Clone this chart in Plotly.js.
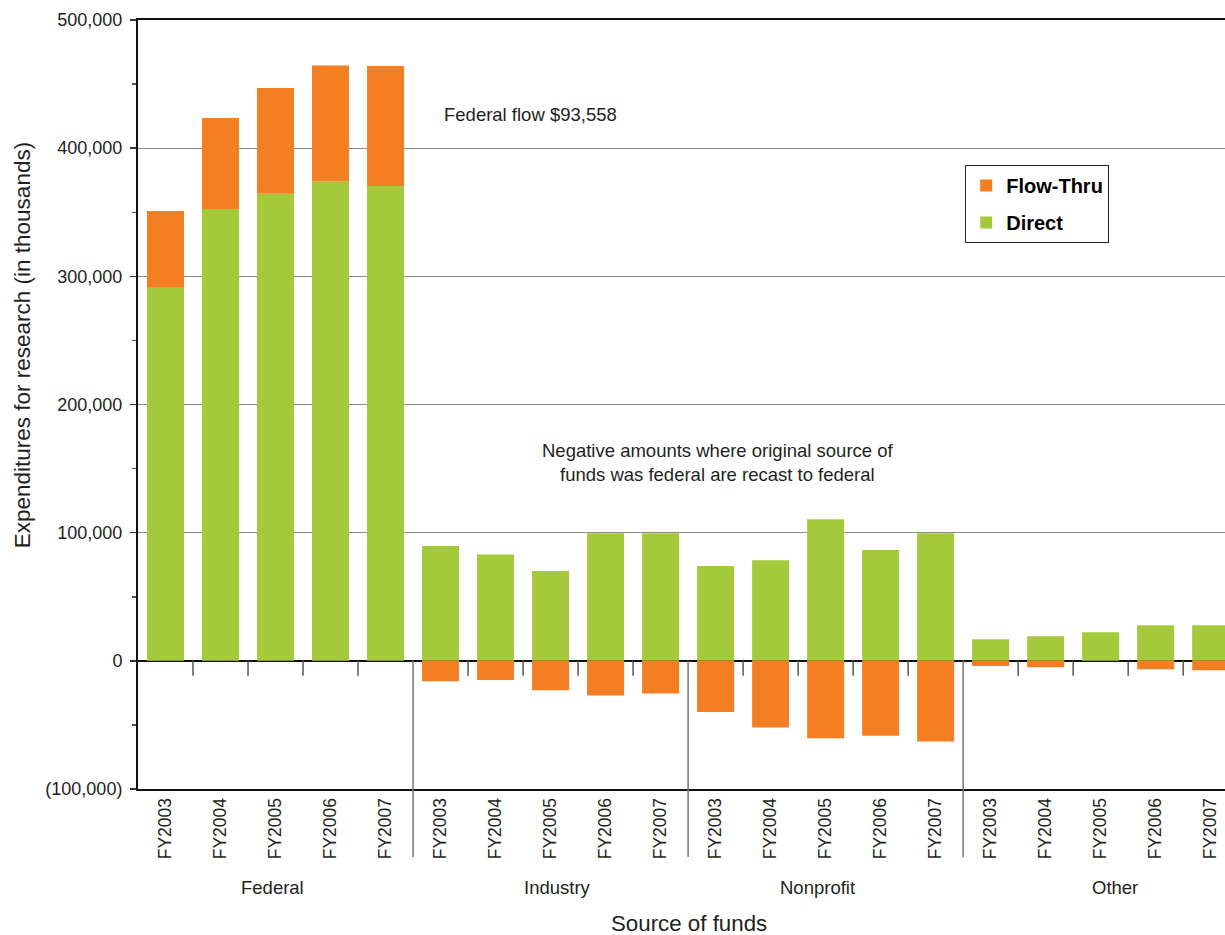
<!DOCTYPE html>
<html>
<head>
<meta charset="utf-8">
<script src="https://cdn.plot.ly/plotly-3.0.1.min.js"></script>
<style>html,body{margin:0;padding:0;background:#fff;}#chart{width:1225px;height:935px;}</style>
</head>
<body>
<div id="chart"></div>
<script>
// ---- data ----
const groups = ['Federal', 'Industry', 'Nonprofit', 'Other'];
const years = ['FY2003', 'FY2004', 'FY2005', 'FY2006', 'FY2007'];

const directFederal   = [291000, 352500, 364500, 374000, 370500];
const flowFederal     = [60000, 71000, 82500, 90500, 93558];
const directIndustry  = [89500, 83000, 70000, 99500, 99500];
const flowIndustry    = [-16000, -15000, -23000, -27000, -25500];
const directNonprofit = [74000, 78500, 110500, 86500, 99500];
const flowNonprofit   = [-40000, -52000, -60500, -58500, -63000];
const directOther     = [16800, 19200, 22300, 27700, 27700];
const flowOther       = [-4000, -5000, 0, -6500, -7300];

const yTickVals = [-100000, 0, 100000, 200000, 300000, 400000, 500000];
const yTickText = ['(100,000)', '0', '100,000', '200,000', '300,000', '400,000', '500,000'];

// ---- build ----
const direct = [].concat(directFederal, directIndustry, directNonprofit, directOther);
const flow = [].concat(flowFederal, flowIndustry, flowNonprofit, flowOther);
const xIdx = direct.map((_, i) => i);
const xText = [];
groups.forEach(() => years.forEach(y => xText.push(y)));

const GREEN = '#a4c93b';
const ORANGE = '#f47e22';
const FONT = 'Liberation Sans, Arial, Helvetica, sans-serif';
const TXT = '#231f20';

const traces = [
  {type: 'bar', name: 'Direct', x: xIdx, y: direct, marker: {color: GREEN, line: {width: 0}},
   legendgroup: 'd', legendrank: 2, hoverinfo: 'y'},
  {type: 'bar', name: 'Flow-Thru', x: xIdx, y: flow, marker: {color: ORANGE, line: {width: 0}},
   legendgroup: 'f', legendrank: 1, hoverinfo: 'y'}
];

const n = years.length;
const shapes = [];
for (let i = 0; i < xIdx.length - 1; i++) {
  const b = i + 0.5;
  if ((i + 1) % n === 0) {
    shapes.push({type: 'line', xref: 'x', yref: 'paper', x0: b, x1: b, y0: 1/6, y1: -0.0884,
      line: {color: '#777', width: 1.5}});
  } else {
    shapes.push({type: 'line', xref: 'x', yref: 'y', ysizemode: 'pixel', yanchor: 0,
      x0: b, x1: b, y0: 0, y1: -15, line: {color: '#555', width: 1.5}});
  }
}

const groupLabelX = [1.94, 7.12, 11.85, 17.26];
const annotations = groups.map((g, k) => ({
  text: g, xref: 'x', yref: 'paper', x: groupLabelX[k], y: -0.1287,
  showarrow: false, xanchor: 'center', yanchor: 'middle',
  font: {family: FONT, size: 18.5, color: TXT}
}));
annotations.push({
  text: 'Federal flow $93,558', xref: 'paper', yref: 'paper', x: 0.2797, y: 0.8765,
  xanchor: 'left', yanchor: 'middle', showarrow: false,
  font: {family: FONT, size: 18.5, color: TXT}
});
annotations.push({
  text: 'Negative amounts where original source of<br>funds was federal are recast to federal',
  xref: 'paper', yref: 'paper', x: 0.5336, y: 0.4246,
  xanchor: 'center', yanchor: 'middle', align: 'center', showarrow: false,
  font: {family: FONT, size: 18.5, color: TXT}
});
annotations.push({
  text: 'Expenditures for research (in thousands)', xref: 'paper', yref: 'paper',
  x: -0.1067, y: 0.577, xanchor: 'center', yanchor: 'middle', textangle: -90, showarrow: false,
  font: {family: FONT, size: 22.5, color: TXT}
});
annotations.push({
  text: 'Source of funds', xref: 'paper', yref: 'paper',
  x: (689 - 138) / 1087, y: (789 - 923) / 769, xanchor: 'center', yanchor: 'middle', showarrow: false,
  font: {family: FONT, size: 22.3, color: TXT}
});

const layout = {
  width: 1225, height: 935,
  margin: {l: 138, r: 0, t: 20, b: 146},
  paper_bgcolor: '#fff', plot_bgcolor: '#fff',
  barmode: 'relative', bargap: 0.327,
  font: {family: FONT, color: TXT},
  showlegend: true,
  legend: {
    x: 0.761, y: 0.8114, xanchor: 'left', yanchor: 'top',
    bgcolor: '#fff', bordercolor: '#222', borderwidth: 1,
    traceorder: 'grouped', tracegroupgap: 8,
    font: {family: FONT, size: 20, color: '#000', weight: 'bold'}
  },
  xaxis: {
    range: [-0.5, 19.26], tickvals: xIdx, ticktext: xText, tickangle: -90,
    ticks: '', showgrid: false, zeroline: false,
    showline: true, linecolor: '#111', linewidth: 2, mirror: true,
    tickfont: {family: FONT, size: 17.5, color: TXT},
    fixedrange: true
  },
  yaxis: {
    range: [-100000, 500000], tickvals: yTickVals, ticktext: yTickText,
    ticks: 'outside', ticklen: 6, tickcolor: '#333', tickwidth: 1.5,
    minor: {dtick: 50000, ticks: 'outside', ticklen: 4, tickcolor: '#555', showgrid: false},
    showgrid: true, gridcolor: '#8a8a8a', gridwidth: 1.3,
    zeroline: true, zerolinecolor: '#111', zerolinewidth: 2.5,
    showline: true, linecolor: '#111', linewidth: 2,
    tickfont: {family: FONT, size: 18, color: TXT},
    ticklabelstandoff: 4,
    fixedrange: true
  },
  shapes: shapes,
  annotations: annotations
};

Plotly.newPlot('chart', traces, layout, {displayModeBar: false, staticPlot: true});
</script>
</body>
</html>
